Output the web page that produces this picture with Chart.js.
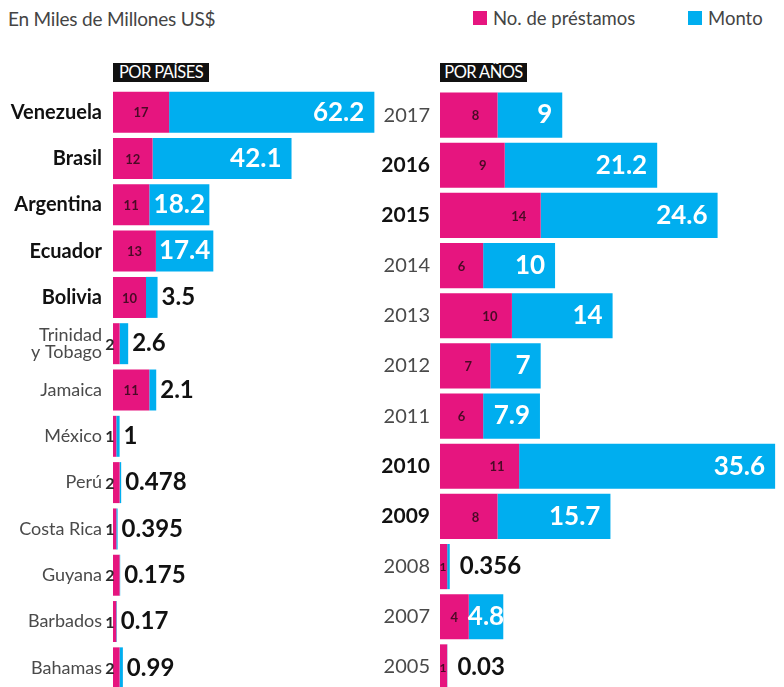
<!DOCTYPE html>
<html>
<head>
<meta charset="utf-8">
<script src="https://cdn.jsdelivr.net/npm/chart.js@4.4.1/dist/chart.umd.min.js"></script>
<style>
  body { margin: 0; width: 784px; height: 687px; overflow: hidden; background: #fff; position: relative; font-family: Lato, sans-serif; }
  .titulo { position: absolute; left: 8px; top: 7px; font-size: 19px; color: #444; letter-spacing: -0.2px; }
  .leyenda { position: absolute; top: 7px; font-size: 18.5px; color: #444; display: flex; align-items: center; }
  .leyenda span.sq { display: inline-block; width: 14px; height: 14px; margin-right: 6px; }
  .cabecera { position: absolute; top: 63px; height: 19px; line-height: 19px; background: #111; color: #fff; font-size: 16.5px; text-align: center; letter-spacing: -0.6px; }
  canvas { position: absolute; }
</style>
</head>
<body>
<div class="titulo">En Miles de Millones US$</div>
<div class="leyenda" style="left:473px"><span class="sq" style="background:#e6157f"></span>No. de préstamos</div>
<div class="leyenda" style="left:688px"><span class="sq" style="background:#00aeef"></span>Monto</div>
<div class="cabecera" style="left:113px;width:96px">POR PAÍSES</div>
<div class="cabecera" style="left:440px;width:87px">POR AÑOS</div>
<div id="izq" style="position:absolute;left:0;top:89px;width:380px;height:602px"><canvas id="chartPaises"></canvas></div>
<div id="der" style="position:absolute;left:380px;top:90px;width:404px;height:602px"><canvas id="chartAnios"></canvas></div>

<script>
// ── DATOS ──────────────────────────────────────────────────────────────
const paises = ['Venezuela', 'Brasil', 'Argentina', 'Ecuador', 'Bolivia', ['Trinidad', 'y Tobago'],
  'Jamaica', 'México', 'Perú', 'Costa Rica', 'Guyana', 'Barbados', 'Bahamas'];
const paisesPrestamos = [17, 12, 11, 13, 10, 2, 11, 1, 2, 1, 2, 1, 2];
const paisesMonto = [62.2, 42.1, 18.2, 17.4, 3.5, 2.6, 2.1, 1, 0.478, 0.395, 0.175, 0.17, 0.99];
const paisesDestacados = [true, true, true, true, true, false, false, false, false, false, false, false, false];

const anios = ['2017', '2016', '2015', '2014', '2013', '2012', '2011', '2010', '2009', '2008', '2007', '2005'];
const aniosPrestamos = [8, 9, 14, 6, 10, 7, 6, 11, 8, 1, 4, 1];
const aniosMonto = [9, 21.2, 24.6, 10, 14, 7, 7.9, 35.6, 15.7, 0.356, 4.8, 0.03];
const aniosDestacados = [false, true, true, false, false, false, false, true, true, false, false, false];

const MAGENTA = '#e6157f';
const CYAN = '#00aeef';

// ── ETIQUETAS EN LAS BARRAS ────────────────────────────────────────────
const etiquetas = {
  id: 'etiquetas',
  afterDatasetsDraw(chart, args, opts) {
    const ctx = chart.ctx;
    const cnt = chart.getDatasetMeta(0).data;
    const mon = chart.getDatasetMeta(1).data;
    ctx.save();
    ctx.textBaseline = 'middle';

    // numero de prestamos
    cnt.forEach((bar, i) => {
      const w = bar.x - bar.base;
      const txt = String(chart.data.datasets[0].data[i]);
      ctx.textAlign = 'center';
      if (w < 14) {
        // barras muy finas: numero pegado al inicio de la barra
        ctx.font = opts.smallFont;
        ctx.fillStyle = opts.smallColor;
        ctx.fillText(txt, bar.base + opts.smallCountDx, bar.y + 1);
      } else {
        ctx.font = 'bold 13px Lato';
        ctx.fillStyle = '#4a0a26';
        const x = opts.countAtEnd ? Math.max(bar.base + w / 2, bar.x - 22) : bar.base + w / 2;
        ctx.fillText(txt, x, bar.y + 1);
      }
    });

    // monto
    mon.forEach((bar, i) => {
      const w = bar.x - bar.base;
      const txt = String(chart.data.datasets[1].data[i]);
      if (w >= 30) {
        ctx.font = `bold ${opts.valueSize}px Lato`;
        ctx.fillStyle = '#fff';
        const tw = ctx.measureText(txt).width;
        if (tw + 16 <= w) {
          ctx.textAlign = 'right';
          ctx.fillText(txt, bar.x - 10, bar.y);
        } else {
          ctx.textAlign = 'center';
          ctx.fillText(txt, bar.base + w / 2, bar.y);
        }
      } else {
        ctx.font = `bold ${opts.outSize}px Lato`;
        ctx.fillStyle = '#111';
        ctx.textAlign = 'left';
        ctx.fillText(txt, bar.x + opts.outDx, bar.y);
      }
    });
    ctx.restore();
  }
};

function crearGrafico(id, labels, prestamos, monto, destacados, cfg) {
  return new Chart(document.getElementById(id), {
    type: 'bar',
    data: {
      labels: labels,
      datasets: [
        { label: 'No. de préstamos', data: prestamos, backgroundColor: MAGENTA },
        { label: 'Monto', data: monto, backgroundColor: CYAN }
      ]
    },
    options: {
      indexAxis: 'y',
      responsive: true,
      maintainAspectRatio: false,
      animation: false,
      layout: { padding: { right: cfg.padRight, top: 0, bottom: 0, left: 0 } },
      datasets: { bar: { categoryPercentage: 1, barPercentage: cfg.barPct } },
      plugins: {
        legend: { display: false },
        tooltip: { enabled: false },
        etiquetas: cfg.etiquetas
      },
      scales: {
        x: { stacked: true, display: false, min: 0, max: cfg.max },
        y: {
          stacked: true,
          grid: { display: false, drawTicks: false },
          border: { display: false },
          afterFit: (scale) => {
            scale.width = cfg.axisWidth;
            scale.paddingTop = 0;
            scale.paddingBottom = 0;
          },
          ticks: {
            padding: cfg.tickPad,
            color: (c) => destacados[c.index] ? '#111' : '#4a4a4a',
            font: (c) => ({
              family: 'Lato',
              size: destacados[c.index] ? cfg.boldSize : cfg.tickSize,
              weight: destacados[c.index] ? 'bold' : 'normal',
              lineHeight: 0.92
            })
          }
        }
      }
    },
    plugins: [etiquetas]
  });
}

crearGrafico('chartPaises', paises, paisesPrestamos, paisesMonto, paisesDestacados, {
  max: 80, padRight: 3, axisWidth: 113, tickPad: 11, tickSize: 18, boldSize: 20, barPct: 0.885,
  etiquetas: { smallCountDx: -3, smallFont: 'bold 16px Lato', smallColor: '#2a2a2a',
    countAtEnd: false, valueSize: 26, outSize: 24, outDx: 4 }
});

crearGrafico('chartAnios', anios, aniosPrestamos, aniosMonto, aniosDestacados, {
  max: 47, padRight: 6, axisWidth: 60, tickPad: 10, tickSize: 20, boldSize: 21, barPct: 0.9,
  etiquetas: { smallCountDx: 3, smallFont: 'bold 12px Lato', smallColor: '#4a0a26',
    countAtEnd: true, valueSize: 26, outSize: 24, outDx: 10 }
});
</script>
</body>
</html>
